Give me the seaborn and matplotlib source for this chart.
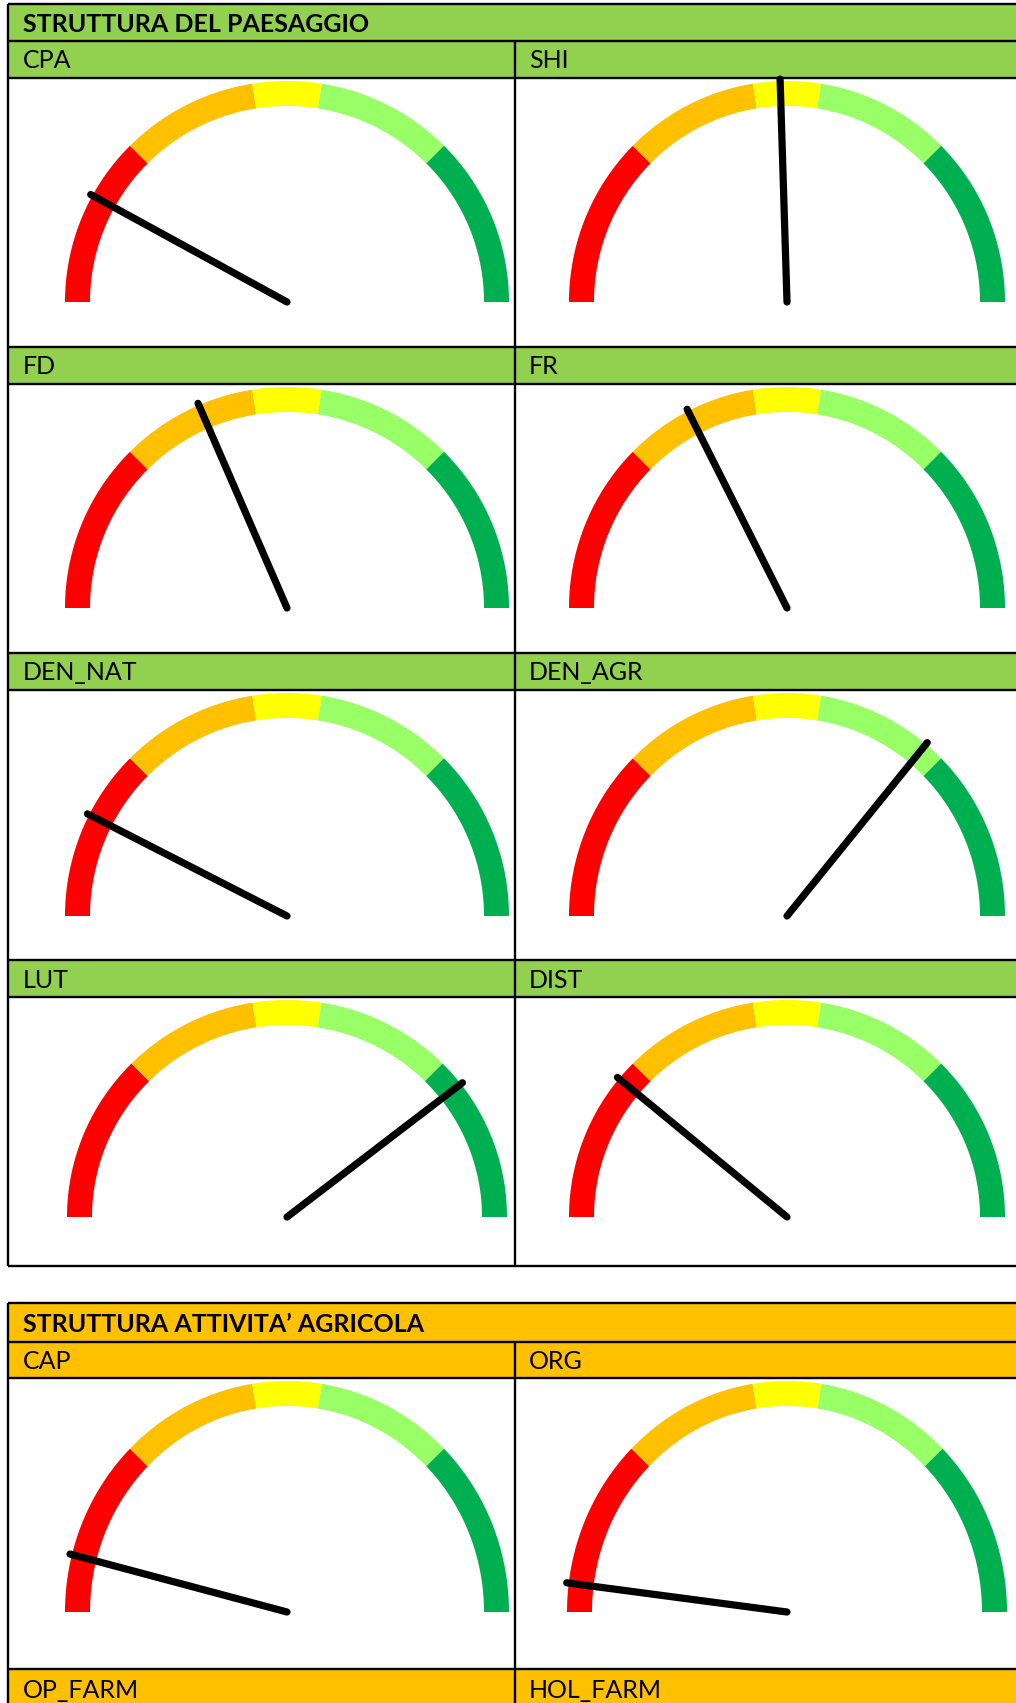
import numpy as np
import matplotlib
matplotlib.use("Agg")
import matplotlib.pyplot as plt
import seaborn as sns

# ---- content -------------------------------------------------------------
section_titles = ["STRUTTURA DEL PAESAGGIO", "STRUTTURA ATTIVITA\u2019 AGRICOLA"]
section_colors = ["#92D050", "#FFC000"]

landscape_labels = ["CPA", "SHI", "FD", "FR", "DEN_NAT", "DEN_AGR", "LUT", "DIST"]
landscape_values = [16, 49, 37, 35, 15, 72, 79, 22]      # needle position, 0-100

farm_labels = ["CAP", "ORG", "OP_FARM", "HOL_FARM"]
farm_values = [8, 4]                                      # needle position, 0-100

band_sizes = [25, 20, 10, 20, 25]                         # gauge bands, sum = 100
band_colors = ["#FF0000", "#FFC000", "#FFFF00", "#99FF66", "#00B050"]

# ---- page layout (pixels) ------------------------------------------------
W, H = 1016, 1703
sns.set_theme(style="white")
plt.rcParams["font.family"] = ["Lato", "DejaVu Sans"]

fig = plt.figure(figsize=(W / 100, H / 100), dpi=100)
ax = fig.add_axes([0, 0, 1, 1])
ax.set_xlim(0, W)
ax.set_ylim(H, 0)
ax.set_aspect("equal")
ax.axis("off")

X_LEFT, X_MID, X_RIGHT = 8, 515, W + 20
COL_CX = [287, 787]
COL_TEXT_X = [23, 529]
LW = 1.7
FS = 18

def hline(y):
    ax.plot([X_LEFT, X_RIGHT], [y, y], color="black", lw=LW, solid_capstyle="butt", zorder=5)

def vline(x, y0, y1):
    ax.plot([x, x], [y0, y1], color="black", lw=LW, solid_capstyle="butt", zorder=5)

def band(y0, y1, color):
    ax.fill([X_LEFT, X_RIGHT, X_RIGHT, X_LEFT], [y0, y0, y1, y1], color=color, lw=0, zorder=1)

def gauge(cx, cy, rx, ry, value):
    width = 25
    edges = np.concatenate([[0], np.cumsum(band_sizes)]) / 100.0
    for i, col in enumerate(band_colors):
        th = np.pi * (1 - np.linspace(edges[i], edges[i + 1], 60))
        xo = cx + rx * np.cos(th)
        yo = cy - ry * np.sin(th)
        xi = cx + (rx - width) * np.cos(th[::-1])
        yi = cy - (ry - width) * np.sin(th[::-1])
        ax.fill(np.r_[xo, xi], np.r_[yo, yi], color=col, lw=0, zorder=2,
                antialiased=True)
    th = np.pi * (1 - value / 100.0)
    tip_x = cx + (rx + 2) * np.cos(th)
    tip_y = cy - (ry + 2) * np.sin(th)
    sns.lineplot(x=[cx, tip_x], y=[cy, tip_y], ax=ax, color="black", lw=5.2,
                 sort=False, estimator=None, solid_capstyle="round", zorder=4)

def table(top, header_h, row_h, cell_h, title, color, labels, values, pivots, radii, n_rows, tail=None):
    y = top
    band(y, y + header_h, color)
    ax.text(COL_TEXT_X[0], y + header_h / 2 + 1.5, title, fontsize=FS, fontweight="bold",
            va="center", ha="left", color="black", zorder=6)
    hline(y)
    y += header_h
    hline(y)
    for r in range(n_rows):
        band(y, y + row_h[r], color)
        for c in range(2):
            ax.text(COL_TEXT_X[c], y + row_h[r] / 2 + 1.5, labels[2 * r + c], fontsize=FS,
                    va="center", ha="left", color="black", zorder=6)
        y += row_h[r]
        hline(y)
        for c in range(2):
            idx = 2 * r + c
            if idx < len(values):
                cy = pivots[r]
                rx = radii[r][c]
                ry = cy - (y + 3)
                gauge(COL_CX[c], cy, rx, ry, values[idx])
        y += cell_h[r]
        hline(y)
    bottom = y
    if tail is not None:
        band(y, tail, color)
        for c in range(2):
            ax.text(COL_TEXT_X[c], y + 21, labels[2 * n_rows + c], fontsize=FS,
                    va="center", ha="left", color="black", zorder=6)
        bottom = tail + 5
    vline(X_LEFT, top, bottom)
    vline(X_MID, top + header_h, bottom)

# landscape structure table
table(top=4, header_h=37,
      row_h=[37, 37, 37, 37], cell_h=[269, 269, 270, 269],
      title=section_titles[0], color=section_colors[0],
      labels=landscape_labels, values=landscape_values,
      pivots=[302, 608, 916, 1217],
      radii=[(222, 218), (222, 218), (222, 218), (220, 218)],
      n_rows=4)

# farming activity structure table
table(top=1303, header_h=39,
      row_h=[36], cell_h=[291],
      title=section_titles[1], color=section_colors[1],
      labels=farm_labels, values=farm_values,
      pivots=[1612],
      radii=[(222, 220)],
      n_rows=1, tail=H + 5)

fig.savefig("out.png", dpi=100)
